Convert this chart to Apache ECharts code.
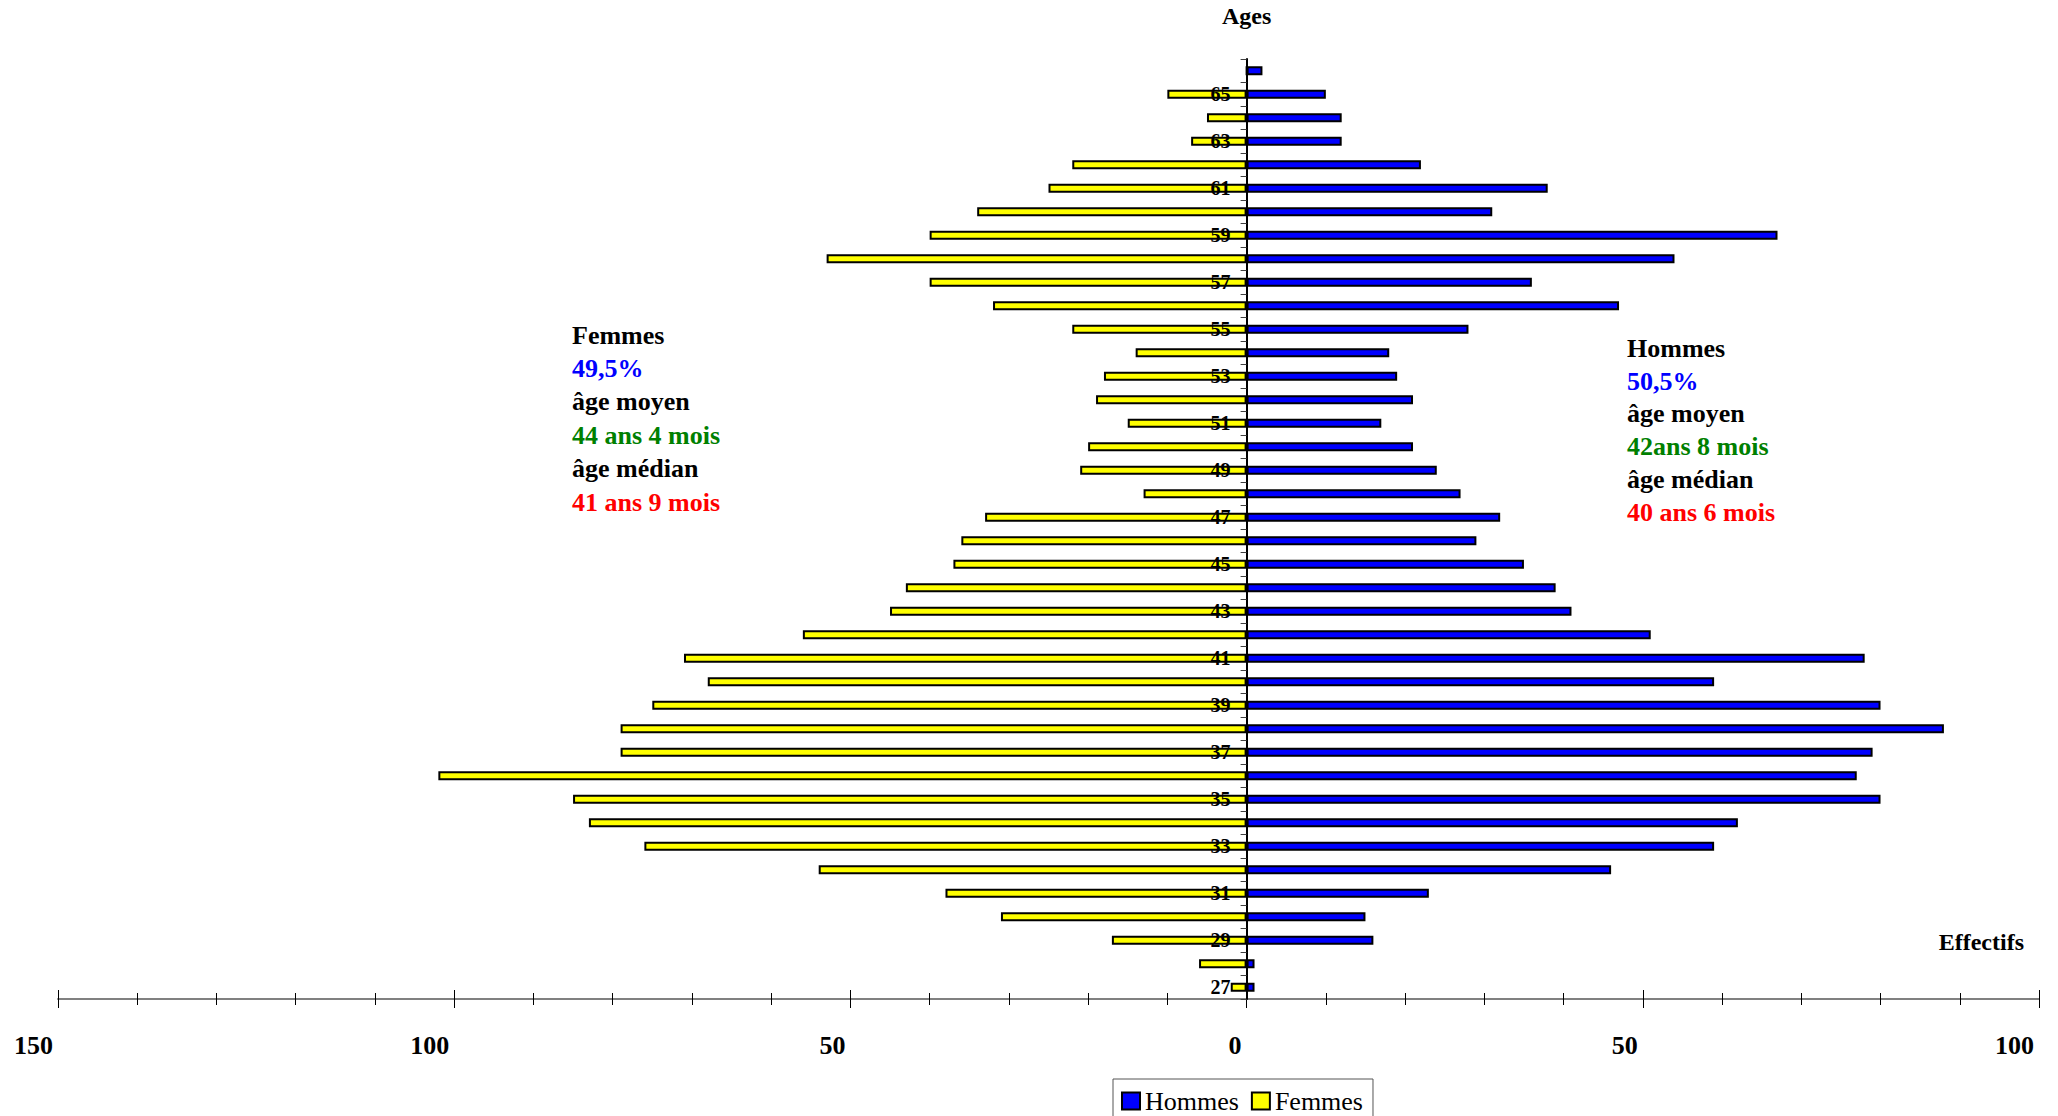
<!DOCTYPE html>
<html>
<head>
<meta charset="utf-8">
<style>
  html, body { margin: 0; padding: 0; background: #fff; }
  #chart { width: 2058px; height: 1116px; }
</style>
<script src="https://cdn.jsdelivr.net/npm/echarts@6/dist/echarts.min.js"></script>
</head>
<body>
<div id="chart"></div>
<script>
// ---- Data (bottom to top: age 27 -> 66) ----
const ages = ['27','28','29','30','31','32','33','34','35','36','37','38','39','40','41','42','43','44','45','46',
              '47','48','49','50','51','52','53','54','55','56','57','58','59','60','61','62','63','64','65','66'];
const hommes = [1, 1, 16, 15, 23, 46, 59, 62, 80, 77, 79, 88, 80, 59, 78, 51, 41, 39, 35, 29,
                32, 27, 24, 21, 17, 21, 19, 18, 28, 47, 36, 54, 67, 31, 38, 22, 12, 12, 10, 2];
const femmes = [2, 6, 17, 31, 38, 54, 76, 83, 85, 102, 79, 79, 75, 68, 71, 56, 45, 43, 37, 36,
                33, 13, 21, 20, 15, 19, 18, 14, 22, 32, 40, 53, 40, 34, 25, 22, 7, 5, 10, 0];
const xTickLabels = ['150', '100', '50', '0', '50', '100'];
const seriesNames = ['Hommes', 'Femmes'];
const femmesText = ['Femmes', '49,5%', 'âge moyen', '44 ans 4 mois', 'âge médian', '41 ans 9 mois'];
const hommesText = ['Hommes', '50,5%', 'âge moyen', '42ans 8 mois', 'âge médian', '40 ans 6 mois'];
const textColors = ['#000000', '#0000FF', '#000000', '#008000', '#000000', '#FF0000'];

const FONT = '"Liberation Serif", "Times New Roman", serif';
const X_MIN = -150, X_MAX = 100;
const GRID = { left: 58, right: 19, top: 59, bottom: 117 };
const CHART_W = 2058;
// place the age axis at value 0 of the horizontal scale
const plotW = CHART_W - GRID.left - GRID.right;
const yAxisOffset = -plotW * (0 - X_MIN) / (X_MAX - X_MIN);

function textBlock(lines, x, y0, step) {
  return lines.map((t, i) => ({
    type: 'text',
    left: x,
    top: y0 + i * step - 13,
    style: {
      text: t,
      fill: textColors[i],
      font: 'bold 26px ' + FONT,
      textVerticalAlign: 'top'
    }
  }));
}

const chart = echarts.init(document.getElementById('chart'), null, { renderer: 'svg' });

const xCommon = {
  type: 'value',
  min: X_MIN,
  max: X_MAX,
  interval: 50,
  position: 'bottom',
  splitLine: { show: false },
  axisLine: { show: true, onZero: false, lineStyle: { color: '#808080', width: 2 } }
};

chart.setOption({
  backgroundColor: '#ffffff',
  animation: false,
  grid: Object.assign({ containLabel: false }, GRID),
  legend: {
    data: seriesNames,
    left: 1113,
    top: 1079,
    orient: 'horizontal',
    itemWidth: 18,
    itemHeight: 17,
    itemGap: 12,
    padding: [9, 10, 9, 8],
    borderColor: '#555555',
    borderWidth: 1,
    icon: 'rect',
    textStyle: { fontFamily: FONT, fontSize: 26, color: '#000' },
    itemStyle: { borderColor: '#000', borderWidth: 2 }
  },
  xAxis: [
    Object.assign({}, xCommon, {
      axisTick: { show: true, length: 9, lineStyle: { color: '#000', width: 1 } },
      minorTick: { show: true, splitNumber: 5, length: 6, lineStyle: { color: '#000', width: 1 } },
      axisLabel: {
        show: true,
        margin: 33,
        align: 'right',
        padding: [0, 5, 0, 0],
        fontFamily: FONT,
        fontWeight: 'bold',
        fontSize: 26,
        color: '#000',
        formatter: function (v) {
          const idx = Math.round((v - X_MIN) / 50);
          return xTickLabels[idx] !== undefined ? xTickLabels[idx] : '';
        }
      }
    }),
    Object.assign({}, xCommon, {
      axisLine: { show: false },
      axisTick: { show: true, inside: true, length: 9, lineStyle: { color: '#000', width: 1 } },
      minorTick: { show: true, splitNumber: 5, length: 6, lineStyle: { color: '#000', width: 1 } },
      axisLabel: { show: false }
    })
  ],
  yAxis: {
    type: 'category',
    data: ages,
    z: 10,
    position: 'left',
    offset: yAxisOffset,
    name: 'Ages',
    nameLocation: 'end',
    nameGap: 31,
    nameTextStyle: { fontFamily: FONT, fontWeight: 'bold', fontSize: 24, color: '#000' },
    axisLine: { show: true, onZero: false, lineStyle: { color: '#000', width: 2 } },
    axisTick: { show: true, length: 6, interval: 0, alignWithLabel: false, lineStyle: { color: '#404040', width: 1 } },
    axisLabel: {
      show: true,
      interval: function (index, value) { return Number(value) % 2 === 1; },
      margin: 16,
      fontFamily: FONT,
      fontWeight: 'bold',
      fontSize: 20,
      color: '#000'
    },
    splitLine: { show: false }
  },
  series: [
    {
      name: seriesNames[0],
      type: 'bar',
      xAxisIndex: 0,
      data: hommes,
      barWidth: 9,
      barGap: '-100%',
      itemStyle: { color: '#0000FF', borderColor: '#000', borderWidth: 2 }
    },
    {
      name: seriesNames[1],
      type: 'bar',
      xAxisIndex: 0,
      data: femmes.map(v => -v),
      barWidth: 9,
      barGap: '-100%',
      itemStyle: { color: '#FFFF00', borderColor: '#000', borderWidth: 2 }
    }
  ],
  graphic: [].concat(
    textBlock(femmesText, 572, 335, 33.4),
    textBlock(hommesText, 1627, 348.3, 32.8),
    [{
      type: 'text',
      right: 34,
      top: 930,
      style: { text: 'Effectifs', fill: '#000', font: 'bold 24px ' + FONT, textVerticalAlign: 'top' }
    }]
  )
});
</script>
</body>
</html>
